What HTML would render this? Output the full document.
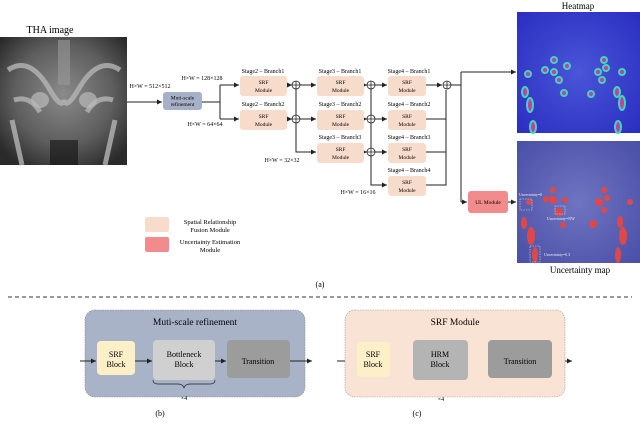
<!DOCTYPE html>
<html><head><style>
body{margin:0;background:#fff;}
svg{display:block;font-family:"Liberation Serif",serif;}
</style></head><body>
<svg width="640" height="426" viewBox="0 0 640 426" xmlns="http://www.w3.org/2000/svg">
<defs>
<marker id="a" markerWidth="6" markerHeight="6" refX="5" refY="3" orient="auto"><path d="M0,0.5 L5,3 L0,5.5z" fill="#222"/></marker>
<radialGradient id="xr" cx="50%" cy="45%" r="65%"><stop offset="0" stop-color="#8a8a8a"/><stop offset="0.6" stop-color="#5e5e5e"/><stop offset="1" stop-color="#2a2a2a"/></radialGradient>
<radialGradient id="hm" cx="50%" cy="50%" r="70%"><stop offset="0" stop-color="#4a55d8"/><stop offset="1" stop-color="#2a2ec0"/></radialGradient>
<radialGradient id="um" cx="50%" cy="50%" r="70%"><stop offset="0" stop-color="#6f74c0"/><stop offset="1" stop-color="#4a4fa8"/></radialGradient>
</defs>
<!-- THA image -->
<text x="50" y="33" font-size="10" text-anchor="middle">THA image</text>
<rect x="0" y="37" width="127" height="128" fill="url(#xr)"/>
<g fill="none" stroke="#b5b5b5" stroke-width="5" opacity="0.8">
<path d="M8,70 Q30,55 50,90 Q62,110 64,100 Q66,110 78,90 Q98,55 120,70"/>
<path d="M14,100 Q30,95 40,112 M113,100 Q97,95 87,112"/>
<path d="M12,120 L22,165 M115,120 L105,165"/>
</g>
<ellipse cx="40" cy="100" rx="9" ry="8" fill="#bbb" opacity="0.7"/>
<ellipse cx="88" cy="100" rx="9" ry="8" fill="#bbb" opacity="0.7"/>
<rect x="58" y="40" width="12" height="45" fill="#999" opacity="0.6"/>
<rect x="50" y="140" width="28" height="25" fill="#111" opacity="0.6"/>
<!-- main line -->
<g stroke="#222" stroke-width="1" fill="none">
<line x1="127" y1="102" x2="162" y2="102" marker-end="url(#a)"/>
<polyline points="202,102 220,102"/>
<polyline points="220,85 220,119"/>
<line x1="220" y1="85" x2="239" y2="85" marker-end="url(#a)"/>
<line x1="220" y1="119" x2="239" y2="119" marker-end="url(#a)"/>
<line x1="287" y1="85" x2="292" y2="85" marker-end="url(#a)"/>
<line x1="287" y1="119" x2="292" y2="119" marker-end="url(#a)"/>
<line x1="296" y1="89" x2="296" y2="115"/>
<line x1="300" y1="85" x2="316" y2="85" marker-end="url(#a)"/>
<line x1="300" y1="119" x2="316" y2="119" marker-end="url(#a)"/>
<polyline points="296,123 296,152 316,152" marker-end="url(#a)"/>
<line x1="364" y1="85" x2="367" y2="85" marker-end="url(#a)"/>
<line x1="364" y1="119" x2="367" y2="119" marker-end="url(#a)"/>
<line x1="364" y1="152" x2="367" y2="152" marker-end="url(#a)"/>
<line x1="371" y1="89" x2="371" y2="115"/>
<line x1="371" y1="123" x2="371" y2="148"/>
<line x1="375" y1="85" x2="387" y2="85" marker-end="url(#a)"/>
<line x1="375" y1="119" x2="387" y2="119" marker-end="url(#a)"/>
<line x1="375" y1="152" x2="387" y2="152" marker-end="url(#a)"/>
<polyline points="371,156 371,185 387,185" marker-end="url(#a)"/>
<line x1="426" y1="85" x2="442" y2="85" marker-end="url(#a)"/>
<polyline points="426,119 446,119"/>
<polyline points="426,152 446,152"/>
<polyline points="426,185 446,185 446,90"/>
<polyline points="451,85 461,85"/>
<polyline points="461,72 461,202"/>
<line x1="461" y1="72" x2="516" y2="72" marker-end="url(#a)"/>
<line x1="461" y1="202" x2="467" y2="202" marker-end="url(#a)"/>
<line x1="508" y1="202" x2="516" y2="202" marker-end="url(#a)"/>
</g>
<g fill="none" stroke="#222" stroke-width="0.8">
<circle cx="296" cy="85" r="4"/><path d="M292,85h8M296,81v8"/>
<circle cx="296" cy="119" r="4"/><path d="M292,119h8M296,115v8"/>
<circle cx="371" cy="85" r="4"/><path d="M367,85h8M371,81v8"/>
<circle cx="371" cy="119" r="4"/><path d="M367,119h8M371,115v8"/>
<circle cx="371" cy="152" r="4"/><path d="M367,152h8M371,148v8"/>
<circle cx="447" cy="85" r="4"/><path d="M443,85h8M447,81v8"/>
</g>
<rect x="163" y="92" width="39" height="18" rx="3" fill="#a6b1c9"/>
<text x="182.5" y="99.5" font-size="5.5" text-anchor="middle">Muti-scale</text>
<text x="182.5" y="106" font-size="5.5" text-anchor="middle">refinement</text>
<g font-size="6" text-anchor="middle">
<text x="150" y="88">H×W = 512×512</text>
<text x="202" y="80">H×W = 128×128</text>
<text x="205" y="126">H×W = 64×64</text>
<text x="282" y="162">H×W = 32×32</text>
<text x="358" y="194">H×W = 16×16</text>
<text x="263" y="73">Stage2 – Branch1</text>
<text x="263" y="106">Stage2 – Branch2</text>
<text x="340" y="73">Stage3 – Branch1</text>
<text x="340" y="106">Stage3 – Branch2</text>
<text x="340" y="139">Stage3 – Branch3</text>
<text x="409" y="73">Stage4 – Branch1</text>
<text x="409" y="106">Stage4 – Branch2</text>
<text x="409" y="139">Stage4 – Branch3</text>
<text x="409" y="172">Stage4 – Branch4</text>
</g>
<g fill="#f8dccb">
<rect x="240" y="76" width="47" height="20" rx="3"/><rect x="240" y="110" width="47" height="20" rx="3"/>
<rect x="317" y="76" width="47" height="20" rx="3"/><rect x="317" y="110" width="47" height="20" rx="3"/><rect x="317" y="143" width="47" height="20" rx="3"/>
<rect x="388" y="76" width="38" height="20" rx="3"/><rect x="388" y="110" width="38" height="20" rx="3"/><rect x="388" y="143" width="38" height="20" rx="3"/><rect x="388" y="176" width="38" height="20" rx="3"/>
</g>
<g font-size="5.5" text-anchor="middle">
<text x="263.5" y="84">SRF</text><text x="263.5" y="92">Module</text>
<text x="263.5" y="118">SRF</text><text x="263.5" y="126">Module</text>
<text x="340.5" y="84">SRF</text><text x="340.5" y="92">Module</text>
<text x="340.5" y="118">SRF</text><text x="340.5" y="126">Module</text>
<text x="340.5" y="151">SRF</text><text x="340.5" y="159">Module</text>
<text x="407" y="84">SRF</text><text x="407" y="92">Module</text>
<text x="407" y="118">SRF</text><text x="407" y="126">Module</text>
<text x="407" y="151">SRF</text><text x="407" y="159">Module</text>
<text x="407" y="184">SRF</text><text x="407" y="192">Module</text>
</g>
<rect x="468" y="191" width="40" height="22" rx="3" fill="#f28b8b"/>
<text x="488" y="204" font-size="5.5" text-anchor="middle">UL Module</text>
<!-- Heatmap -->
<text x="578" y="9" font-size="9" text-anchor="middle">Heatmap</text>
<rect x="517" y="12" width="123" height="121" fill="url(#hm)"/>
<g fill="#c23fa0" stroke="#3fd6c0" stroke-width="2">
<circle cx="554" cy="72" r="3"/><circle cx="545" cy="70" r="3"/><circle cx="559" cy="80" r="3"/><circle cx="528" cy="74" r="3"/><circle cx="554" cy="60" r="3"/><circle cx="564" cy="93" r="3"/><circle cx="598" cy="72" r="3"/><circle cx="606" cy="68" r="3"/><circle cx="602" cy="80" r="3"/><circle cx="622" cy="72" r="3"/><circle cx="604" cy="60" r="3"/><circle cx="591" cy="94" r="3"/><circle cx="567" cy="66" r="3"/>
<ellipse cx="525" cy="92" rx="3" ry="5"/><ellipse cx="530" cy="105" rx="3" ry="7"/><ellipse cx="617" cy="92" rx="3" ry="5"/><ellipse cx="622" cy="103" rx="3" ry="7"/>
<ellipse cx="533" cy="127" rx="3" ry="6"/><ellipse cx="618" cy="127" rx="3" ry="6"/>
</g>
<!-- Uncertainty map -->
<rect x="517" y="141" width="123" height="122" fill="url(#um)"/>
<g fill="#e04848">
<circle cx="553" cy="200" r="4"/><circle cx="546" cy="199" r="3"/><circle cx="559" cy="212" r="4"/><circle cx="529" cy="202" r="3"/><circle cx="553" cy="190" r="3"/><circle cx="563" cy="225" r="3"/><circle cx="599" cy="202" r="4"/><circle cx="607" cy="198" r="3"/><circle cx="604" cy="210" r="3"/><circle cx="630" cy="202" r="3"/><circle cx="604" cy="190" r="3"/><circle cx="593" cy="224" r="4"/><circle cx="565" cy="200" r="3"/>
<ellipse cx="524" cy="223" rx="3" ry="6"/><ellipse cx="531" cy="236" rx="4" ry="9"/><ellipse cx="620" cy="222" rx="3" ry="6"/><ellipse cx="623" cy="236" rx="4" ry="9"/><ellipse cx="535" cy="255" rx="3" ry="8"/><ellipse cx="618" cy="255" rx="3" ry="8"/>
</g>
<g fill="none" stroke="#ddd" stroke-width="0.6" stroke-dasharray="1.5,1">
<rect x="520" y="199" width="12" height="11"/><rect x="555" y="206" width="10" height="8"/><rect x="530" y="246" width="10" height="16"/>
</g>
<g font-size="4" fill="#eee"><text x="519" y="196">Uncertainty=0</text><text x="547" y="220">Uncertainty=NW</text><text x="544" y="256">Uncertainty=0.3</text></g>
<text x="580" y="273" font-size="9" text-anchor="middle">Uncertainty map</text>
<!-- legend -->
<rect x="145" y="217" width="24" height="15" rx="2" fill="#f8dccb"/>
<rect x="145" y="237" width="24" height="15" rx="2" fill="#f28b8b"/>
<g font-size="6.5" text-anchor="middle"><text x="210" y="224">Spatial Relationship</text><text x="210" y="232">Fusion Module</text><text x="210" y="244">Uncertainty Estimation</text><text x="210" y="252">Module</text></g>
<text x="320" y="287" font-size="8" text-anchor="middle">(a)</text>
<line x1="8" y1="297" x2="632" y2="297" stroke="#333" stroke-width="1" stroke-dasharray="4,3"/>
<!-- panel b -->
<rect x="85" y="310" width="220" height="87" rx="10" fill="#a9b3c8" stroke="#888" stroke-width="0.6" stroke-dasharray="1.5,1"/>
<text x="195" y="325" font-size="9.5" text-anchor="middle">Muti-scale refinement</text>
<rect x="97" y="341" width="38" height="34" rx="4" fill="#fdf0c8"/>
<rect x="153" y="340" width="62" height="40" rx="4" fill="#d0d0d0"/>
<rect x="227" y="340" width="63" height="38" rx="4" fill="#9c9c9c"/>
<g stroke="#222" fill="none"><line x1="80" y1="361" x2="96" y2="361" marker-end="url(#a)"/><line x1="135" y1="361" x2="152" y2="361" marker-end="url(#a)"/><line x1="215" y1="361" x2="226" y2="361" marker-end="url(#a)"/><line x1="290" y1="361" x2="312" y2="361" marker-end="url(#a)"/>
<path d="M153,380 q0,4 5,4 h20 q5,0 6,4 q1,-4 6,-4 h20 q5,0 5,-4" stroke-width="0.7"/>
<line x1="337" y1="361" x2="356" y2="361" marker-end="url(#a)"/><line x1="390" y1="361" x2="412" y2="361" marker-end="url(#a)"/><line x1="468" y1="361" x2="487" y2="361" marker-end="url(#a)"/><line x1="552" y1="361" x2="572" y2="361" marker-end="url(#a)"/>
<path d="M413,382 q0,4 5,4 h17 q5,0 6,4 q1,-4 6,-4 h16 q5,0 5,-4" stroke-width="0.7"/></g>
<g font-size="8" text-anchor="middle">
<text x="116" y="357">SRF</text><text x="116" y="367">Block</text>
<text x="184" y="357">Bottleneck</text><text x="184" y="367">Block</text>
<text x="258" y="364">Transition</text>
<text x="184" y="400" font-size="6">×4</text>
</g>
<text x="160" y="416" font-size="8" text-anchor="middle">(b)</text>
<!-- panel c -->
<rect x="345" y="310" width="220" height="87" rx="10" fill="#f9e3d5" stroke="#999" stroke-width="0.6" stroke-dasharray="1.5,1"/>
<text x="455" y="325" font-size="9.5" text-anchor="middle">SRF Module</text>
<rect x="357" y="342" width="33" height="35" rx="4" fill="#fdf0c8"/>
<rect x="413" y="340" width="55" height="40" rx="4" fill="#b4b4b4"/>
<rect x="488" y="340" width="64" height="38" rx="4" fill="#9c9c9c"/>
<g font-size="8" text-anchor="middle">
<text x="373" y="357">SRF</text><text x="373" y="367">Block</text>
<text x="440" y="357">HRM</text><text x="440" y="367">Block</text>
<text x="520" y="364">Transition</text>
<text x="441" y="401" font-size="6">×4</text>
</g>
<text x="417" y="416" font-size="8" text-anchor="middle">(c)</text>
</svg>
</body></html>
